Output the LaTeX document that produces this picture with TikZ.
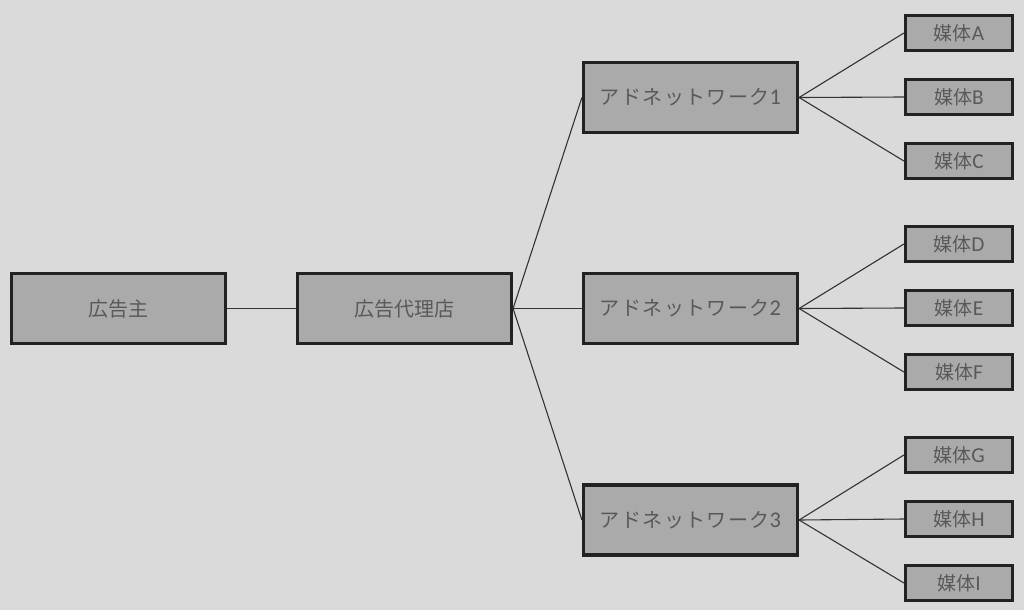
\documentclass[tikz,border=0pt]{standalone}
\usepackage{fontspec}
\setmainfont{Noto Sans CJK JP}
\newfontfamily\katafont[LetterSpace=7]{Noto Sans CJK JP}
\newfontfamily\latinf[Scale=1.12]{Carlito}
\definecolor{bg}{HTML}{DADADA}
\definecolor{boxfill}{HTML}{AAAAAA}
\definecolor{boxline}{HTML}{222222}
\definecolor{txt}{HTML}{595959}
\definecolor{conn}{HTML}{333333}
\begin{document}
\begin{tikzpicture}[x=1pt,y=-1pt,
  bigbox/.style={draw=boxline, line width=3.2pt, fill=boxfill, minimum width=214pt, minimum height=70pt, inner sep=0pt, text=txt, font=\fontsize{20}{24}\selectfont},
  smallbox/.style={draw=boxline, line width=3.2pt, fill=boxfill, minimum width=107pt, minimum height=35pt, inner sep=0pt, text=txt, font=\fontsize{19}{22}\selectfont},
  link/.style={draw=conn, line width=1.1pt}]
\fill[bg] (0,0) rectangle (1024,610);
\useasboundingbox (0,0) rectangle (1024,610);
\node[bigbox] (adv) at (118.5,308.5) {広告主};
\node[bigbox] (agency) at (404.5,308.5) {広告代理店};
\node[bigbox] (an1) at (690.5,97.5) {{\katafont アドネットワーク}{\latinf 1}};
\node[bigbox] (an2) at (690.5,308.5) {{\katafont アドネットワーク}{\latinf 2}};
\node[bigbox] (an3) at (690.5,520) {{\katafont アドネットワーク}{\latinf 3}};
\node[smallbox] (mA) at (959,33) {媒体{\latinf A}};
\node[smallbox] (mB) at (959,97) {媒体{\latinf B}};
\node[smallbox] (mC) at (959,161) {媒体{\latinf C}};
\node[smallbox] (mD) at (959,244) {媒体{\latinf D}};
\node[smallbox] (mE) at (959,308) {媒体{\latinf E}};
\node[smallbox] (mF) at (959,372) {媒体{\latinf F}};
\node[smallbox] (mG) at (959,455) {媒体{\latinf G}};
\node[smallbox] (mH) at (959,519) {媒体{\latinf H}};
\node[smallbox] (mI) at (959,583) {媒体{\latinf I}};
\draw[link] (adv.east) -- (agency.west);
\foreach \n in {an1,an2,an3} \draw[link] (agency.east) -- (\n.west);
\foreach \m in {mA,mB,mC} \draw[link] (an1.east) -- (\m.west);
\foreach \m in {mD,mE,mF} \draw[link] (an2.east) -- (\m.west);
\foreach \m in {mG,mH,mI} \draw[link] (an3.east) -- (\m.west);
\end{tikzpicture}
\end{document}
